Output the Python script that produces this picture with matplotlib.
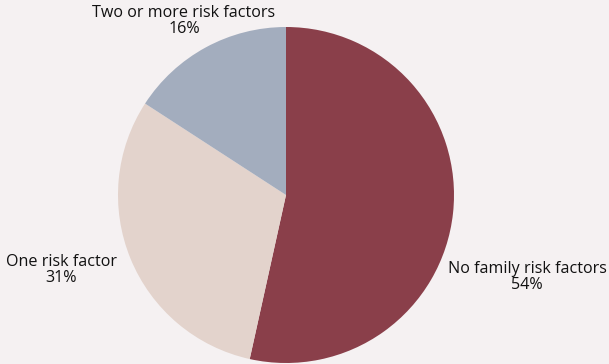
import matplotlib.pyplot as plt

plt.rcParams['font.family'] = ['Open Sans', 'DejaVu Sans']

# risk factor shares (%)
labels = ['No family risk factors', 'One risk factor', 'Two or more risk factors']
shares = [54, 31, 16]
colors = ['#8a3f4a', '#e3d3cc', '#a3adbe']
# label centres in pie units (radius = 1)
label_pos = [(1.435, -0.488), (-1.339, -0.446), (-0.607, 1.036)]

bg = '#f5f1f2'
fig = plt.figure(figsize=(6.09, 3.64), dpi=100, facecolor=bg)
ax = fig.add_axes([118 / 609, 1 / 364, 336 / 609, 336 / 364])
ax.set_facecolor(bg)

ax.pie(shares, colors=colors, startangle=90, counterclock=False, radius=1,
       wedgeprops=dict(linewidth=0))

for lab, val, (x, y) in zip(labels, shares, label_pos):
    ax.text(x, y, f'{lab}\n{val}%', ha='center', va='center', fontsize=11.6,
            color='#111111', linespacing=1.05, clip_on=False)

ax.set_xlim(-1, 1)
ax.set_ylim(-1, 1)
ax.set_aspect('equal')
ax.axis('off')

fig.savefig('out.png', dpi=100, facecolor=bg)
